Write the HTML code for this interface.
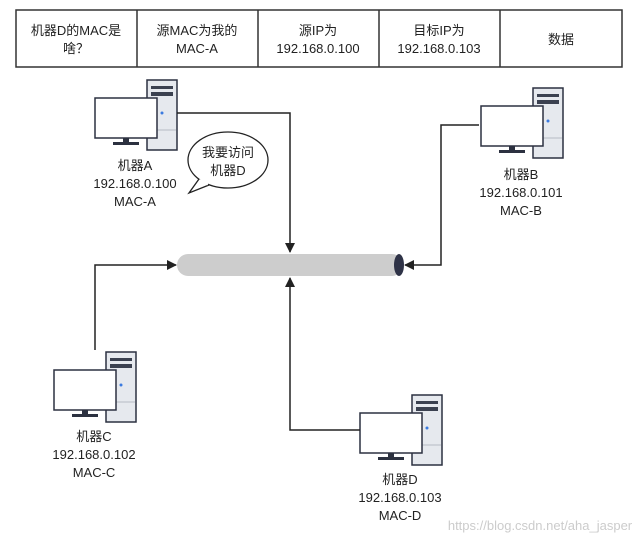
<!DOCTYPE html>
<html><head><meta charset="utf-8"><style>
body{margin:0;background:#fff}
svg{display:block}
text{font-family:"Liberation Sans","Noto Sans CJK SC",sans-serif;font-size:13px;fill:#222;text-anchor:middle}
</style></head><body>
<svg width="636" height="542" viewBox="0 0 636 542" xmlns="http://www.w3.org/2000/svg">
<defs>
<marker id="ar" markerWidth="10" markerHeight="10" refX="9" refY="5" orient="auto" markerUnits="userSpaceOnUse"><path d="M0,0 L10,5 L0,10 Z" fill="#222"/></marker>
<g id="pc">
<rect x="0" y="0" width="30" height="70" fill="#e6e9ee" stroke="#2c3140" stroke-width="1.5"/>
<rect x="4" y="6" width="22" height="3" fill="#3b4150"/>
<rect x="4" y="12" width="22" height="4" fill="#3b4150"/>
<line x1="1" y1="50" x2="29" y2="50" stroke="#b5bac4"/>
<circle cx="15" cy="33" r="1.5" fill="#3b7be0"/>
<rect x="-52" y="18" width="62" height="40" fill="#fff" stroke="#2c3140" stroke-width="1.5"/>
<rect x="-24" y="58" width="6" height="5" fill="#2c3140"/>
<rect x="-34" y="62" width="26" height="3" fill="#2c3140"/>
</g>
</defs>
<g fill="#fff" stroke="#333" stroke-width="1.5">
<rect x="16" y="10" width="606" height="57"/>
<line x1="137" y1="10" x2="137" y2="67"/><line x1="258" y1="10" x2="258" y2="67"/>
<line x1="379" y1="10" x2="379" y2="67"/><line x1="500" y1="10" x2="500" y2="67"/>
</g>
<text x="76" y="35">机器D的MAC是</text><text x="76" y="53">啥？</text>
<text x="197" y="35">源MAC为我的</text><text x="197" y="53">MAC-A</text>
<text x="318" y="35">源IP为</text><text x="318" y="53">192.168.0.100</text>
<text x="439" y="35">目标IP为</text><text x="439" y="53">192.168.0.103</text>
<text x="561" y="44">数据</text>

<use href="#pc" x="147" y="80"/>
<use href="#pc" x="533" y="88"/>
<use href="#pc" x="106" y="352"/>
<use href="#pc" x="412" y="395"/>

<text x="135" y="170">机器A</text><text x="135" y="188">192.168.0.100</text><text x="135" y="206">MAC-A</text>
<text x="521" y="179">机器B</text><text x="521" y="197">192.168.0.101</text><text x="521" y="215">MAC-B</text>
<text x="94" y="441">机器C</text><text x="94" y="459">192.168.0.102</text><text x="94" y="477">MAC-C</text>
<text x="400" y="484">机器D</text><text x="400" y="502">192.168.0.103</text><text x="400" y="520">MAC-D</text>

<ellipse cx="228" cy="160" rx="40" ry="28" fill="#fff" stroke="#222" stroke-width="1.3"/>
<path d="M199,179 L189,193 L209,185" fill="#fff" stroke="#222" stroke-width="1.3"/>
<path d="M200,180 L208,184" stroke="#fff" stroke-width="3"/>
<text x="228" y="157">我要访问</text><text x="228" y="175">机器D</text>

<rect x="177" y="254" width="226" height="22" rx="11" fill="#cdcdcd"/>
<ellipse cx="399" cy="265" rx="5" ry="11" fill="#2f3347"/>

<g fill="none" stroke="#222" stroke-width="1.5">
<polyline points="177,113 290,113 290,252" marker-end="url(#ar)"/>
<polyline points="479,125 441,125 441,265 405,265" marker-end="url(#ar)"/>
<polyline points="95,350 95,265 176,265" marker-end="url(#ar)"/>
<polyline points="360,430 290,430 290,278" marker-end="url(#ar)"/>
</g>
<text x="540" y="530" style="fill:#ccc;font-size:13px">https://blog.csdn.net/aha_jasper</text>
</svg>
</body></html>
